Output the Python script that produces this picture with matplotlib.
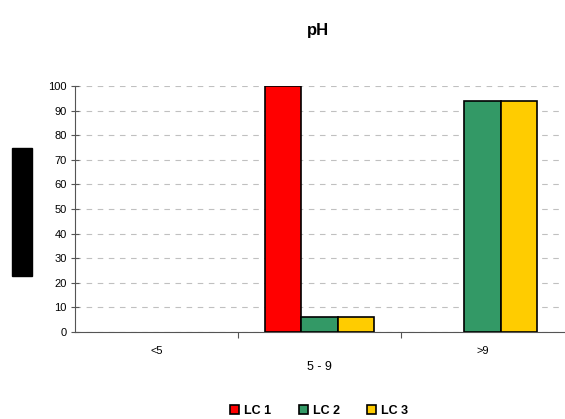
import matplotlib
matplotlib.use("Agg")
import matplotlib.pyplot as plt
import numpy as np
from matplotlib.patches import Rectangle

plt.rcParams['font.family'] = ['Liberation Sans', 'DejaVu Sans']

categories = ['<5', '5 - 9', '>9']
series = ['LC 1', 'LC 2', 'LC 3']
lc1 = [0, 100, 0]
lc2 = [0, 6.25, 93.75]
lc3 = [0, 6.25, 93.75]
colors = ['#ff0000', '#339966', '#ffcc00']

fig = plt.figure(figsize=(5.65, 4.19), dpi=100)
ax = fig.add_axes([0.1327, 0.2076, 0.8653, 0.5871])

x = np.arange(len(categories))
w = 0.223
for i, (vals, c, name) in enumerate(zip([lc1, lc2, lc3], colors, series)):
    # zero-height bars leave no outline, like the original
    lw = [1.2 if v > 0 else 0 for v in vals]
    ax.bar(x + (i - 1) * w, vals, width=w, color=c, edgecolor='black',
           linewidth=lw, label=name, zorder=3)

ax.set_xlim(-0.5, 2.5)
ax.set_ylim(0, 100)
ax.set_yticks(range(0, 101, 10))
ax.yaxis.grid(True, linestyle=(0, (5, 5)), color='#c0c0c0', linewidth=0.8, zorder=0)

# category separators as ticks
ax.set_xticks([0.5, 1.5])
ax.set_xticklabels([])
ax.tick_params(axis='x', direction='out', length=4, color='#555555')
ax.tick_params(axis='y', direction='inout', length=6, color='#555555', labelsize=8, pad=3)
for s in ['top', 'right']:
    ax.spines[s].set_visible(False)
for s in ['left', 'bottom']:
    ax.spines[s].set_color('#555555')

# staggered category labels
shift = [-14, -25, -14]
sizes = [8, 9, 8]
for xi, lab, dy, fs in zip(x, categories, shift, sizes):
    ax.annotate(lab, (xi, 0), xycoords=('data', 'axes fraction'),
                xytext=(0, dy), textcoords='offset points',
                ha='center', va='center', fontsize=fs)

fig.text(0.563, 0.928, 'pH', ha='center', va='center', fontsize=12, fontweight='bold')

# redacted axis label block
fig.patches.append(Rectangle((12 / 565, 1 - 276 / 419), 20 / 565, 128 / 419,
                             transform=fig.transFigure, color='black'))

leg = fig.legend(loc='center', bbox_to_anchor=(0.565, 0.02), ncol=3, frameon=False,
                 handlelength=0.7, handleheight=0.7, handletextpad=0.4, columnspacing=2.2,
                 prop={'weight': 'bold', 'size': 9})
for h in leg.legend_handles:
    h.set_linewidth(1.2)

fig.savefig('out.png', dpi=100)
